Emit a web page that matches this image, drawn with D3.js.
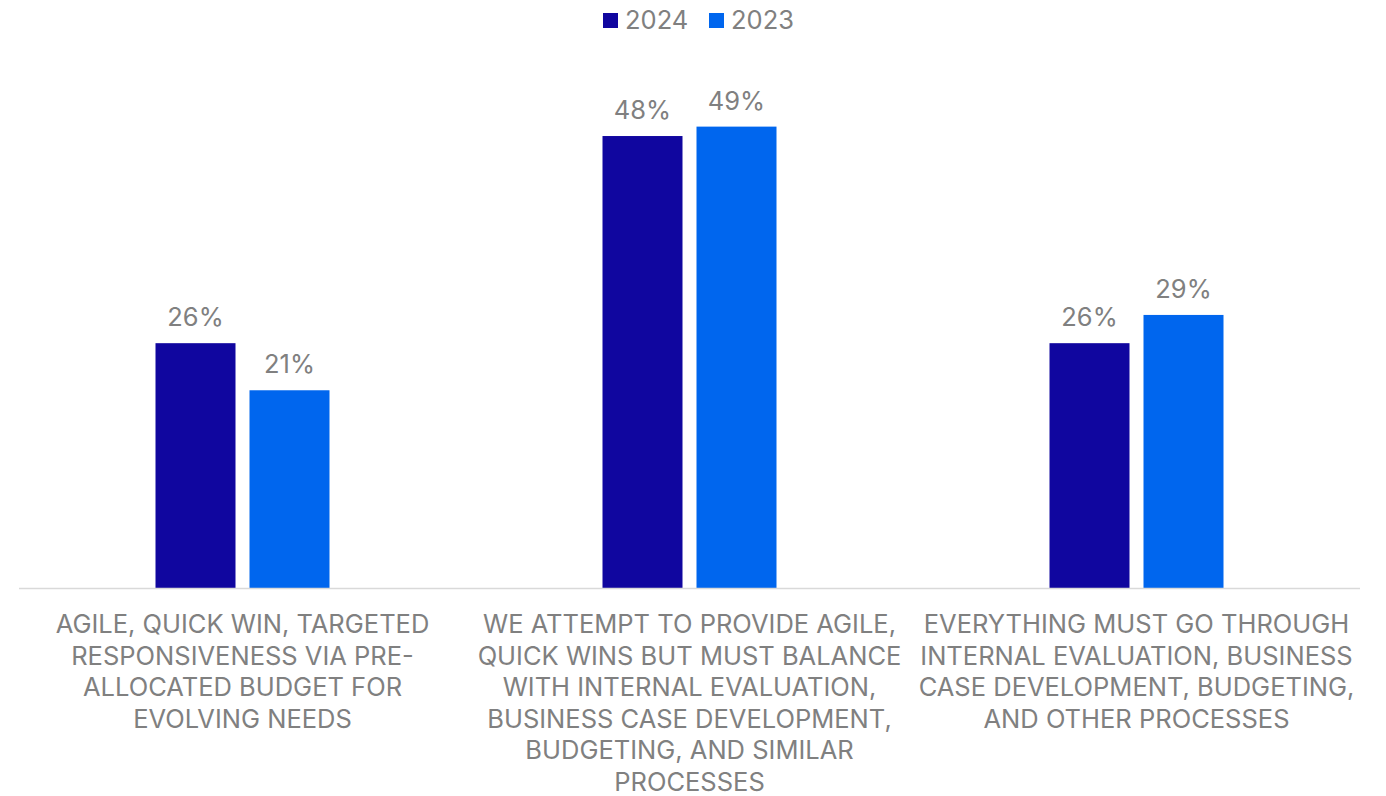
<!DOCTYPE html>
<html>
<head>
<meta charset="utf-8">
<script src="https://cdn.jsdelivr.net/npm/d3@7"></script>
<style>
  html, body { margin: 0; padding: 0; background: #fff; }
  svg { display: block; font-family: Inter, "Noto Sans", sans-serif; }
</style>
</head>
<body>
<svg id="chart" width="1386" height="796"></svg>
<script>
// Category labels (line breaks mark the wrapped lines)
const categories = [
  "AGILE, QUICK WIN, TARGETED\nRESPONSIVENESS VIA PRE-\nALLOCATED BUDGET FOR\nEVOLVING NEEDS",
  "WE ATTEMPT TO PROVIDE AGILE,\nQUICK WINS BUT MUST BALANCE\nWITH INTERNAL EVALUATION,\nBUSINESS CASE DEVELOPMENT,\nBUDGETING, AND SIMILAR\nPROCESSES",
  "EVERYTHING MUST GO THROUGH\nINTERNAL EVALUATION, BUSINESS\nCASE DEVELOPMENT, BUDGETING,\nAND OTHER PROCESSES"
];
const seriesNames = ["2024", "2023"];
const values2024 = [26, 48, 26];
const values2023 = [21, 49, 29];
const seriesColors = ["#10069F", "#0066EE"];

const svg = d3.select("#chart");
const textColor = "#808080";
const fontSize = 25.5;

const baseY = 588;
const groupWidth = 174;
const x0 = d3.scaleBand().domain(d3.range(categories.length)).range([19, 1360]);
const x1 = d3.scaleBand().domain(seriesNames).range([0, groupWidth]).paddingInner(14 / 94);
const y = d3.scaleLinear().domain([0, 50]).range([baseY, baseY - 470.8]);

const rows = categories.map((c, i) => ({
  cat: i,
  vals: [{ s: "2024", v: values2024[i] }, { s: "2023", v: values2023[i] }]
}));

const groupOffset = (x0.bandwidth() - groupWidth) / 2;

const groups = svg.append("g").selectAll("g.grp").data(rows).join("g")
  .attr("class", "grp")
  .attr("transform", d => `translate(${x0(d.cat) + groupOffset},0)`);

groups.selectAll("rect").data(d => d.vals).join("rect")
  .attr("x", d => x1(d.s))
  .attr("width", x1.bandwidth())
  .attr("y", d => y(d.v))
  .attr("height", d => baseY - y(d.v))
  .attr("fill", (d, i) => seriesColors[i]);

groups.selectAll("text.val").data(d => d.vals).join("text")
  .attr("class", "val")
  .attr("x", d => x1(d.s) + x1.bandwidth() / 2)
  .attr("y", d => y(d.v) - 17)
  .attr("text-anchor", "middle")
  .attr("font-size", fontSize)
  .attr("fill", textColor)
  .text(d => d.v + "%");

// Baseline
svg.append("line")
  .attr("x1", x0.range()[0]).attr("x2", x0.range()[1])
  .attr("y1", baseY + 0.5).attr("y2", baseY + 0.5)
  .attr("stroke", "#d9d9d9").attr("stroke-width", 1.5);

// Category labels
categories.forEach((c, i) => {
  const cx = x0(i) + x0.bandwidth() / 2;
  const t = svg.append("text")
    .attr("text-anchor", "middle")
    .attr("font-size", fontSize)
    .attr("fill", textColor);
  c.split("\n").forEach((line, j) => {
    t.append("tspan")
      .attr("x", cx)
      .attr("y", 633 + j * 31.6)
      .text(line);
  });
});

// Legend
const legendX = [603, 709];
const lg = svg.append("g");
seriesNames.forEach((s, i) => {
  lg.append("rect")
    .attr("x", legendX[i]).attr("y", 13)
    .attr("width", 15).attr("height", 15)
    .attr("fill", seriesColors[i]);
  lg.append("text")
    .attr("x", legendX[i] + 22).attr("y", 29)
    .attr("font-size", fontSize)
    .attr("fill", textColor)
    .text(s);
});
</script>
</body>
</html>
